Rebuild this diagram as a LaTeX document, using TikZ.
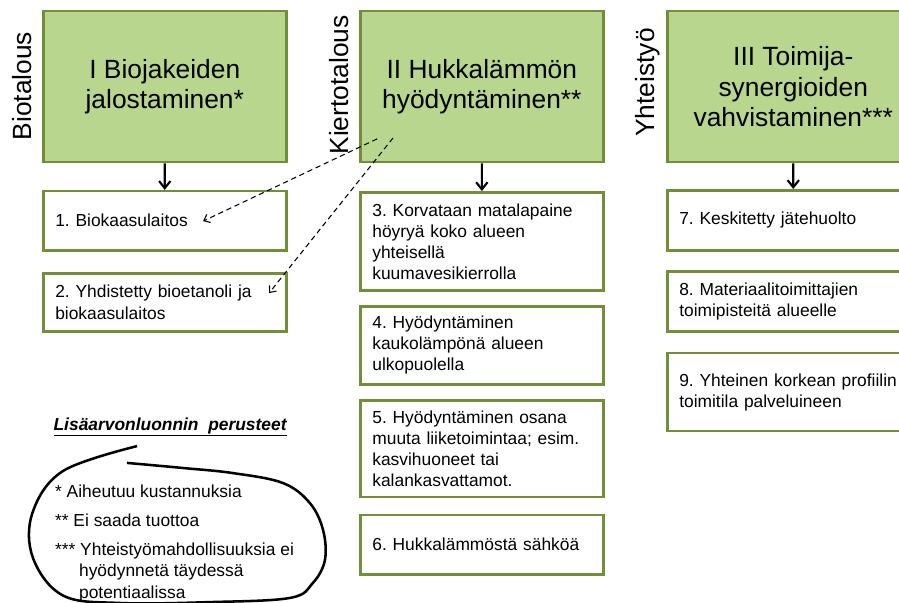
\documentclass[tikz,border=0pt]{standalone}
\usepackage{fontspec}
\setmainfont{Liberation Sans}
\frenchspacing
\usetikzlibrary{calc,arrows.meta}
\tikzset {>={Straight Barb[length=2.4mm,width=3.8mm]}}
\definecolor{kgreen}{RGB}{113,142,56}
\definecolor{kfill}{RGB}{185,214,142}
\tikzset{
  head/.style={draw=kgreen,line width=2.4pt,fill=kfill,anchor=north west,
    minimum width=8.1cm,minimum height=5.03cm,align=center,
    font=\fontsize{25}{28.5}\selectfont},
  item/.style={draw=kgreen,line width=2.4pt,fill=white,anchor=north west,
    inner xsep=0.4cm,text width=7.3cm,align=left,
    font=\fontsize{16.5}{20}\selectfont},
  side/.style={rotate=90,font=\fontsize{25}{30}\selectfont},
  link/.style={->,dash pattern=on 5pt off 3.5pt,line width=1pt,
    >={Straight Barb[length=1.8mm,width=3mm]}}
}

\begin{document}
\begin{tikzpicture}
\useasboundingbox (0,0) rectangle (29.967,-20.067);
\clip (0,0) rectangle (29.967,-20.067);
% paakohdat
\node[head] (bio) at (1.4,-.33) {I Biojakeiden\\jalostaminen*};
\node[head] (hukka) at (11.97,-.33) {II Hukkalämmön\\hyödyntäminen**};
\node[head,minimum width=8.4cm] (synergia) at (22.2,-.33)
  {III Toimija-\\synergioiden\\vahvistaminen***};
\node[side] (biotalous) at (.73,-2.87) {Biotalous};
\node[side] (kierto) at (11.3,-2.83) {Kiertotalous};
\node[side] (yhteistyo) at (21.6,-2.75) {Yhteistyö};
% toimenpiteet
\node[item,minimum height=1.97cm] (t1) at (1.4,-6.33) {1. Biokaasulaitos};
\node[item,minimum height=1.93cm] (t2) at (1.4,-9.07)
  {2. Yhdistetty bioetanoli ja\\biokaasulaitos};
\node[item,minimum height=3.27cm] (t3) at (11.97,-6.37)
  {3. Korvataan matalapaine\\höyryä koko alueen\\yhteisellä\\kuumavesikierrolla};
\node[item,minimum height=2.6cm] (t4) at (11.97,-10.17)
  {4. Hyödyntäminen\\kaukolämpönä alueen\\ulkopuolella};
\node[item,minimum height=3.23cm] (t5) at (11.97,-13.3)
  {5. Hyödyntäminen osana\\muuta liiketoimintaa; esim.\\kasvihuoneet tai\\kalankasvattamot.};
\node[item,minimum height=1.97cm] (t6) at (11.97,-17.13) {6. Hukkalämmöstä sähköä};
\node[item,text width=7.6cm,minimum height=2cm] (t7) at (22.2,-6.3)
  {7. Keskitetty jätehuolto};
\node[item,text width=7.6cm,minimum height=2cm] (t8) at (22.2,-9)
  {8. Materiaalitoimittajien\\toimipisteitä alueelle};
\node[item,text width=7.6cm,minimum height=2.6cm] (t9) at (22.2,-11.73)
  {9. Yhteinen korkean profiilin\\toimitila palveluineen};
% nuolet
\draw[->,line width=2pt] (bio) -- (t1);
\draw[->,line width=2pt] (hukka) -- (t3);
\draw[->,line width=2pt] (synergia) -- (t7);
\coordinate (d1) at (12.57,-4.63);
\coordinate (d2) at (13.1,-4.6);
\coordinate (e1) at (6.77,-7.37);
\coordinate (e2) at (8.97,-9.77);
\draw[link] (d1) -- (e1);
\draw[link] (d2) -- (e2);
% selitteet
\node[font=\fontsize{16.5}{20}\selectfont\bfseries\itshape] (otsikko) at (5.67,-14.23)
  {\underline{Lisäarvonluonnin\ \ perusteet}};
\node[anchor=north west,inner sep=0pt,align=left,font=\fontsize{16.5}{20}\selectfont]
  (selite) at (1.83,-16.17)
  {* Aiheutuu kustannuksia\\[7pt]
   ** Ei saada tuottoa\\[8pt]
   *** Yhteistyömahdollisuuksia ei\\
   \hspace*{.8cm}hyödynnetä täydessä\\
   \hspace*{.8cm}potentiaalissa};
\draw[line width=2.4pt] plot[smooth,tension=.6] coordinates {(4.57,-14.87)
  (2.1,-15.7) (1.08,-17.1) (1.1,-18.6) (2.1,-19.85) (4,-20.1) (7,-20.07)
  (9.67,-19.93) (10.43,-19.43) (10.83,-18.67) (10.77,-17.67)
  (10.33,-16.77) (9.43,-16.1) (7.77,-15.77) (6.1,-15.6) (4.23,-15.43)};
\end{tikzpicture}
\end{document}
